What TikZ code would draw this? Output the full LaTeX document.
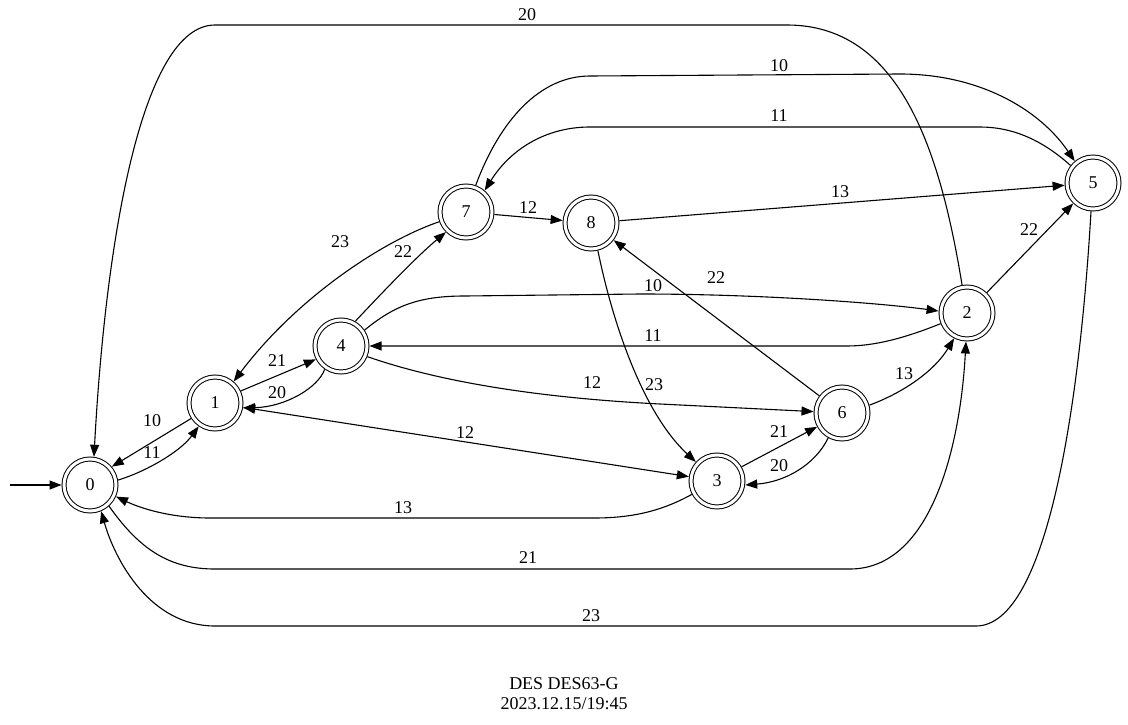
\documentclass[tikz,border=0pt]{standalone}
\usepackage{fontspec}
\setmainfont{Liberation Serif}
\usetikzlibrary{arrows.meta}
\begin{document}
\begin{tikzpicture}[x=1pt,y=-1pt,
  >={Triangle[length=12pt,width=9pt]},
  state/.style={circle,draw,double,double distance=3pt,line width=1pt,minimum size=52pt,inner sep=0pt,outer sep=2.5pt,font=\fontsize{18}{20}\selectfont},
  edge/.style={line width=1.1pt,->},
  lbl/.style={font=\fontsize{18}{20}\selectfont,inner sep=0pt},
]
\useasboundingbox[fill=white] (0,0) rectangle (1128,725);

\node[state] (n0) at (90,485) {0};
\node[state] (n1) at (215,403) {1};
\node[state] (n4) at (341,346) {4};
\node[state] (n7) at (466,212) {7};
\node[state] (n8) at (591,223) {8};
\node[state] (n5) at (1093,183) {5};
\node[state] (n2) at (967,313) {2};
\node[state] (n6) at (842,413) {6};
\node[state] (n3) at (717,481) {3};

\coordinate (start) at (10,485);
\draw[edge] (start) -- (n0);

% 0->1 11
\draw[edge] (n0.10) .. controls (145,472) and (180,452) .. (n1.235);
% 1->0 10
\draw[edge] (n1.213) -- (n0.40);
% 1->4 21
\draw[edge] (n1.25) -- (n4.208);
% 4->1 20
\draw[edge] (n4.235) .. controls (318,388) and (285,407) .. (n1.-10);
% 7->1 23
\draw[edge] (n7.200) .. controls (380,242) and (295,300) .. (n1.49);
% 4->7 22
\draw[edge] (n4.60) .. controls (380,295) and (415,258) .. (n7.225);
% 7->8 12
\draw[edge] (n7) -- (n8);
% 8->5 13
\draw[edge] (n8) -- (n5);
% 7->5 10
\draw[edge] (n7.70) .. controls (500,120) and (540,76) .. (590,76) -- (900,74) .. controls (980,74) and (1040,110) .. (n5.130);
% 5->7 11
\draw[edge] (n5.142) .. controls (1040,138) and (1010,127) .. (980,127) -- (590,127) .. controls (545,127) and (510,150) .. (n7.49);
% 2->0 20
\draw[edge] (n2.100) .. controls (940,150) and (900,25) .. (787,25) -- (215,25) .. controls (140,25) and (105,250) .. (n0.82);
% 2->5 22
\draw[edge] (n2) -- (n5);
% 5->0 23
\draw[edge] (n5.-94) .. controls (1080,400) and (1048,626) .. (976,626) -- (215,626) .. controls (150,626) and (115,560) .. (n0.-67);
% 0->2 21
\draw[edge] (n0.-48) .. controls (140,550) and (170,569) .. (215,569) -- (850,569) .. controls (930,569) and (960,450) .. (n2.-92);
% 3->0 13
\draw[edge] (n3.208) .. controls (660,512) and (630,518) .. (594,518) -- (210,518) .. controls (170,518) and (140,508) .. (n0.-24);
% 1<->3 12
\draw[edge,<->] (n1) -- (n3);
% 4->2 10
\draw[edge] (n4.34) .. controls (395,305) and (420,296) .. (465,296) -- (640,294) .. controls (760,294) and (880,303) .. (n2.176);
% 2->4 11
\draw[edge] (n2.202) .. controls (905,338) and (875,346) .. (847,346) -- (n4);
% 4->6 12
\draw[edge] (n4.-22) .. controls (440,382) and (540,398) .. (660,404) -- (n6);
% 8->3 23
\draw[edge] (n8.-76) .. controls (612,320) and (642,412) .. (n3.138);
% 6->8 22
\draw[edge] (n6) -- (n8);
% 3->6 21
\draw[edge] (n3.30) -- (n6.209);
% 6->3 20
\draw[edge] (n6.-119) .. controls (815,465) and (785,482) .. (n3.-8);
% 6->2 13
\draw[edge] (n6.16) .. controls (905,392) and (935,370) .. (n2.-117);

% labels
\node[lbl] (l20a) at (527,15) {20};
\node[lbl] (l10a) at (779,66) {10};
\node[lbl] (l11a) at (779,116) {11};
\node[lbl] (l13a) at (840,192) {13};
\node[lbl] (l22a) at (1029,230) {22};
\node[lbl] (l23a) at (340,242) {23};
\node[lbl] (l22b) at (403,252) {22};
\node[lbl] (l12a) at (528,208) {12};
\node[lbl] (l10b) at (653,286) {10};
\node[lbl] (l22c) at (716,278) {22};
\node[lbl] (l11b) at (653,336) {11};
\node[lbl] (l21a) at (277,361) {21};
\node[lbl] (l20b) at (277,393) {20};
\node[lbl] (l12b) at (592,383) {12};
\node[lbl] (l23b) at (654,385) {23};
\node[lbl] (l13b) at (904,374) {13};
\node[lbl] (l10c) at (152,421) {10};
\node[lbl] (l11c) at (152,453) {11};
\node[lbl] (l12c) at (465,433) {12};
\node[lbl] (l21b) at (779,432) {21};
\node[lbl] (l20c) at (779,466) {20};
\node[lbl] (l13c) at (403,508) {13};
\node[lbl] (l21c) at (528,558) {21};
\node[lbl] (l23c) at (591,616) {23};

\node[lbl,align=center] (cap) at (564,694) {DES DES63-G\\2023.12.15/19:45};
\end{tikzpicture}
\end{document}
